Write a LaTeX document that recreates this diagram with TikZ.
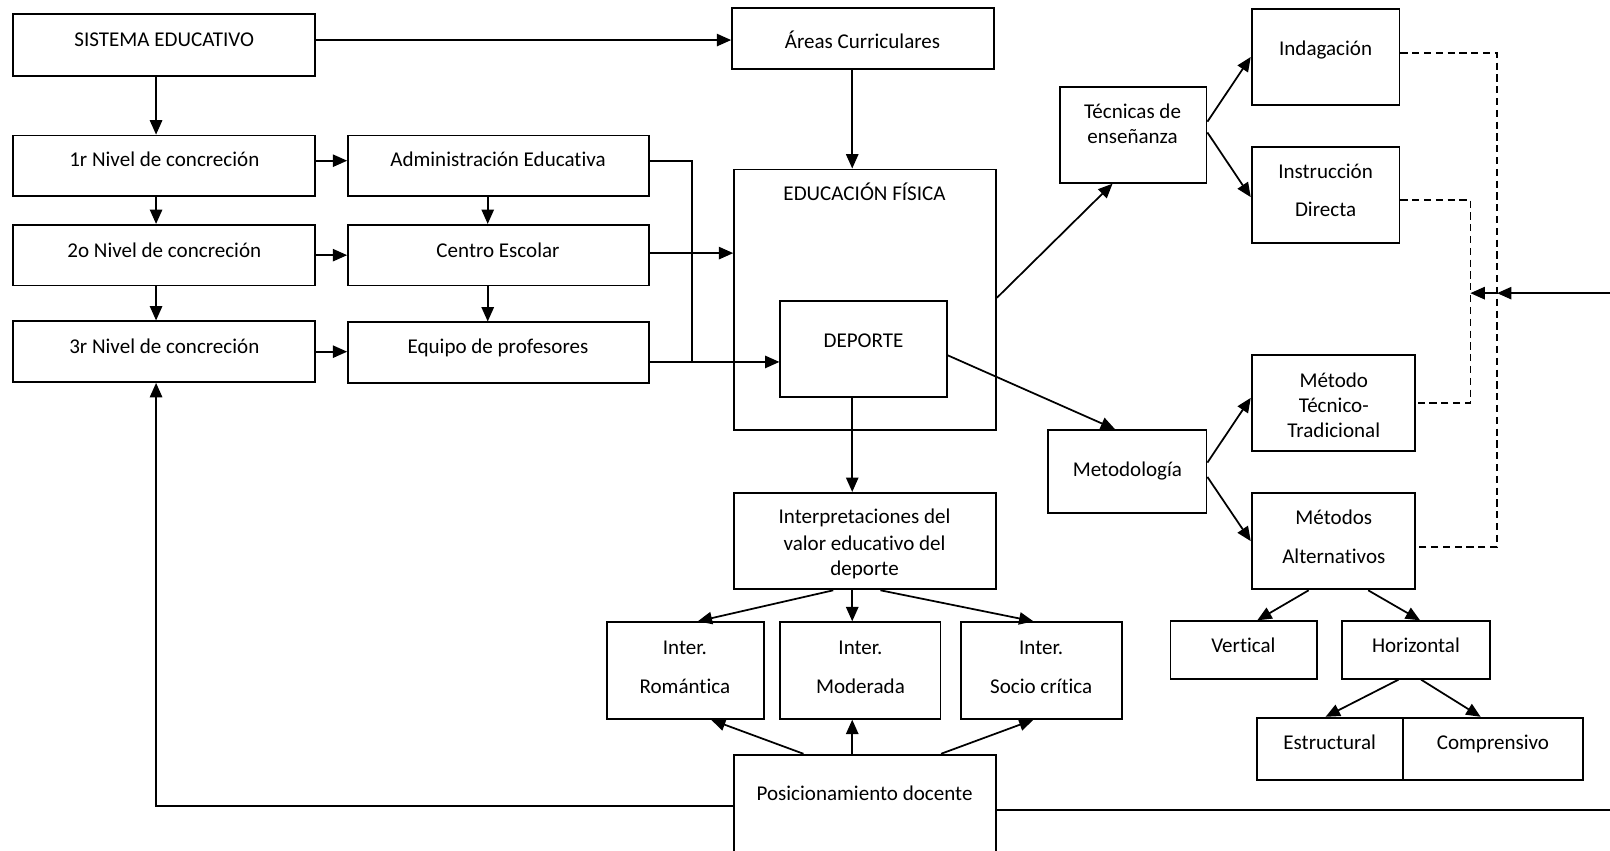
\documentclass[tikz,border=0pt]{standalone}
\usepackage{fontspec}
\setmainfont{Carlito}[Ligatures=CommonOff]
\usetikzlibrary{arrows.meta,fit,calc}
% a framed box spanning two corners, and one line of centred text on a baseline
\newcommand\boxnode[5]{\node[frame, fit={(#2,#3) (#4,#5)}] (#1) {};}
\newcommand\textline[4]{\node[lbl] (#1) at (#2,#3) {#4};}
\begin{document}
\begin{tikzpicture}[x=1pt, y=-1pt,
  frame/.style={draw, line width=1.8pt, inner sep=0pt},
  lbl/.style={anchor=base, inner sep=0pt, font=\fontsize{20.5}{25}\selectfont},
  conn/.style={line width=1.7pt, -{Triangle[length=14pt,width=12pt]}},
  link/.style={line width=1.7pt},
  dlink/.style={line width=1.6pt, dash pattern=on 7pt off 4.5pt}]
\useasboundingbox (0,0) rectangle (1568,828);
\clip (0,0) rectangle (1568,828);

% ---- boxes ----
\boxnode{sis}{13}{14}{307}{74}
\boxnode{areas}{713}{8}{968}{67}
\boxnode{n1}{13}{132}{307}{191}
\boxnode{adm}{339}{132}{632}{191}
\boxnode{n2}{13}{219}{307}{278}
\boxnode{cen}{339}{219}{632}{278}
\boxnode{n3}{13}{313}{307}{372}
\boxnode{eq}{339}{314}{632}{373}
\boxnode{ef}{715}{165}{970}{419}
\boxnode{dep}{760}{293}{922}{387}
\boxnode{tec}{1032}{85}{1175}{178}
\boxnode{ind}{1219}{9}{1363}{102}
\boxnode{ins}{1219}{143}{1363}{237}
\boxnode{mtt}{1219}{346}{1378}{439}
\boxnode{met}{1021}{419}{1175}{500}
\boxnode{alt}{1219}{480}{1378}{574}
\boxnode{int}{715}{480}{970}{574}
\boxnode{rom}{591}{606}{744}{700}
\boxnode{mod}{760}{606}{916}{700}
\boxnode{soc}{936}{606}{1093}{700}
\boxnode{ver}{1140}{605}{1283}{661}
\boxnode{hor}{1307}{605}{1451}{661}
\boxnode{est}{1224}{699}{1366}{760}
\boxnode{com}{1366}{699}{1542}{760}
\boxnode{pos}{715}{735}{970}{860}

% ---- texts ----
\textline{t-sis}{160}{45}{SISTEMA EDUCATIVO}
\textline{t-areas}{840}{47}{Áreas Curriculares}
\textline{t-n1}{160}{162}{1r Nivel de concreción}
\textline{t-adm}{485}{162}{Administración Educativa}
\textline{t-n2}{160}{251}{2o Nivel de concreción}
\textline{t-cen}{485}{251}{Centro Escolar}
\textline{t-n3}{160}{344}{3r Nivel de concreción}
\textline{t-eq}{485}{344}{Equipo de profesores}
\textline{t-ef}{842}{195}{EDUCACIÓN FÍSICA}
\textline{t-dep}{841}{338}{DEPORTE}
\textline{t-tec1}{1103}{115}{Técnicas de}
\textline{t-tec2}{1103}{140}{enseñanza}
\textline{t-ind}{1291}{54}{Indagación}
\textline{t-ins1}{1291}{174}{Instrucción}
\textline{t-ins2}{1291}{211}{Directa}
\textline{t-mtt1}{1299}{377}{Método}
\textline{t-mtt2}{1299}{402}{Técnico-}
\textline{t-mtt3}{1299}{426}{Tradicional}
\textline{t-met}{1098}{464}{Metodología}
\textline{t-alt1}{1299}{511}{Métodos}
\textline{t-alt2}{1299}{549}{Alternativos}
\textline{t-int1}{842}{510}{Interpretaciones del}
\textline{t-int2}{842}{536}{valor educativo del}
\textline{t-int3}{842}{560}{deporte}
\textline{t-rom1}{667}{637}{Inter.}
\textline{t-rom2}{667}{675}{Romántica}
\textline{t-mod1}{838}{637}{Inter.}
\textline{t-mod2}{838}{675}{Moderada}
\textline{t-soc1}{1014}{637}{Inter.}
\textline{t-soc2}{1014}{675}{Socio crítica}
\textline{t-ver}{1211}{635}{Vertical}
\textline{t-hor}{1379}{635}{Horizontal}
\textline{t-est}{1295}{730}{Estructural}
\textline{t-com}{1454}{730}{Comprensivo}
\textline{t-pos}{842}{780}{Posicionamiento docente}

% ---- helper columns and corners ----
\coordinate (cL) at (152,0);
\coordinate (cM) at (475,0);
\coordinate (cJ) at (674,352.5);
\coordinate (cE) at (830,0);
\coordinate (bl) at (152,785);
\coordinate (br) at (1600,789);
\coordinate (rq) at (1600,285.5);
\coordinate (dA) at (1458,0);
\coordinate (dB) at (1432,0);

% ---- left column and levels ----
\draw[conn] ($(sis.east)+(0,-5)$) coordinate (s0) -- (areas.west |- s0);
\draw[conn] (sis.south -| cL) -- (n1.north -| cL);
\draw[conn] (n1.south -| cL) -- (n2.north -| cL);
\draw[conn] (n2.south -| cL) -- (n3.north -| cL);
\draw[conn] ($(n1.east)+(0,-5)$) coordinate (h1) -- (adm.west |- h1);
\draw[conn] (n2.east) -- (cen.west);
\draw[conn] (n3.east) -- (eq.west |- n3.east);
\draw[conn] (adm.south -| cM) -- (cen.north -| cM);
\draw[conn] (cen.south -| cM) -- (eq.north -| cM);
\draw[link] ($(adm.east)+(0,-5)$) -| (cJ);
\draw[conn] (eq.east |- cJ) -- (dep.west |- cJ);
\draw[conn] ($(cen.east)+(0,-2)$) coordinate (h2) -- (ef.west |- h2);

% ---- centre ----
\draw[conn] (areas.south -| cE) -- (ef.north -| cE);
\draw[conn] (dep.south -| cE) -- (int.north -| cE);
\draw[conn] ($(ef.east)+(0,-2)$) -- ($(tec.south)+(-20,0)$);
\draw[conn] ($(dep.east)+(0,6)$) -- ($(met.north)+(-12,0)$);

% ---- techniques and methods ----
\draw[conn] ($(tec.east)+(0,-13)$) -- (ind.west);
\draw[conn] ($(tec.east)+(0,-2.5)$) -- ($(ins.west)+(0,2)$);
\draw[conn] ($(met.east)+(0,-9)$) -- ($(mtt.west)+(0,-5)$);
\draw[conn] ($(met.east)+(0,5)$) -- (alt.west);
\draw[conn] ($(alt.south)+(-24,0)$) -- ($(ver.north)+(13,0)$);
\draw[conn] ($(alt.south)+(34,0)$) -- ($(hor.north)+(4,0)$);
\draw[conn] ($(hor.south)+(-17,0)$) -- ($(est.north)+(-4,0)$);
\draw[conn] ($(hor.south)+(5,0)$) -- ($(com.north)+(-12,0)$);

% ---- interpretations ----
\draw[conn] ($(int.south)+(-31,0)$) -- ($(rom.north)+(12,0)$);
\draw[conn] (int.south -| cE) -- (mod.north -| cE);
\draw[conn] ($(int.south)+(15,0)$) -- ($(soc.north)+(-8,0)$);
\draw[conn] ($(pos.north)+(-60,0)$) -- ($(rom.south)+(25,0)$);
\draw[conn] (pos.north -| cE) -- (mod.south -| cE);
\draw[conn] ($(pos.north)+(74,0)$) -- ($(soc.south)+(-8,0)$);

% ---- feedback from the teacher's position ----
\draw[conn] (pos.west |- bl) -| (n3.south -| cL);
\draw[link] (pos.east |- br) -- (br) -- (rq);
\draw[conn] (rq) -- (dA |- rq);
\draw[conn] (dA |- rq) -- (dB |- rq);

% ---- dashed links between the methods ----
\coordinate (a5) at ($(alt.east)+(0,5.5)$);
\draw[dlink] ($(ind.east)+(0,-4)$) -| (dA |- a5) -- (a5);
\draw[dlink] ($(ins.east)+(0,4.5)$) -| (dB |- mtt.east) -- (mtt.east);
\end{tikzpicture}
\end{document}
